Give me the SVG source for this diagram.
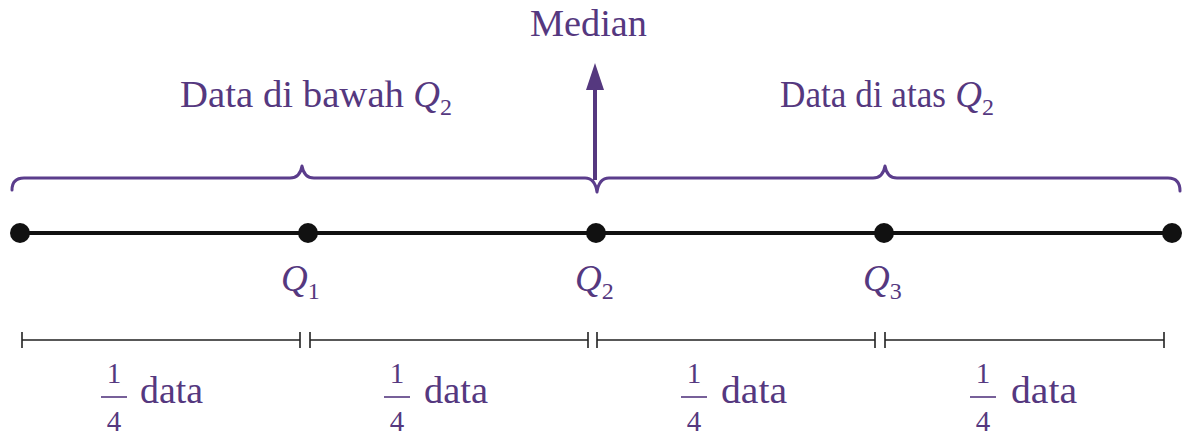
<svg xmlns="http://www.w3.org/2000/svg" width="1192" height="437" viewBox="0 0 1192 437">
<style>
.t{font-family:"Liberation Serif","Times New Roman",serif;fill:#55387f;}
.big{font-size:37px;}
.q{font-style:italic;}
.sub{font-size:24px;font-style:normal;}
.frac{font-size:29px;}
.brace{fill:none;stroke:#5b3d8c;stroke-width:3;stroke-linecap:round;stroke-linejoin:round;}
.axis{stroke:#111;stroke-width:4;}
.dot{fill:#111;}
.meas{stroke:#222;stroke-width:1.6;fill:none;}
.bar{stroke:#55387f;stroke-width:1.6;}
</style>
<g id="connectors">
<path class="brace" d="M12,190 Q12,178 24,178 L290,178 Q300,178 302,166 Q304,178 314,178 L585,178 Q595,178 597,192 Q599,178 609,178 L873,178 Q883,178 885,166 Q887,178 897,178 L1168,178 Q1180,178 1180,191"/>
<line x1="595" y1="180" x2="595" y2="86" stroke="#55387f" stroke-width="4"/>
<polygon points="595,63 586,90 604,90" fill="#55387f"/>
<line class="axis" x1="20" y1="233" x2="1172" y2="233"/>
<g id="measure">
<path class="meas" d="M22,340 H300 M22,332 V348 M300,332 V348 M310,340 H588 M310,332 V348 M588,332 V348 M597,340 H875 M597,332 V348 M875,332 V348 M885,340 H1164 M885,332 V348 M1164,332 V348"/>
</g>
</g>
<g id="node-p0"><circle class="dot" cx="20" cy="233" r="10"/></g>
<g id="node-q1"><circle class="dot" cx="308" cy="233" r="10"/>
<text class="t big q" x="281" y="291">Q<tspan class="sub" dy="8">1</tspan></text></g>
<g id="node-q2"><circle class="dot" cx="596" cy="233" r="10"/>
<text class="t big q" x="575" y="291">Q<tspan class="sub" dy="8">2</tspan></text></g>
<g id="node-q3"><circle class="dot" cx="884" cy="233" r="10"/>
<text class="t big q" x="863" y="291">Q<tspan class="sub" dy="8">3</tspan></text></g>
<g id="node-p4"><circle class="dot" cx="1172" cy="233" r="10"/></g>
<g id="label-median"><text class="t" font-size="38" x="530" y="36" textLength="117" lengthAdjust="spacingAndGlyphs">Median</text></g>
<g id="label-below"><text class="t big" x="180" y="107"><tspan textLength="224" lengthAdjust="spacingAndGlyphs">Data di bawah</tspan> <tspan class="q">Q</tspan><tspan class="sub" dy="8">2</tspan></text></g>
<g id="label-above"><text class="t big" x="780" y="107"><tspan textLength="166" lengthAdjust="spacingAndGlyphs">Data di atas</tspan> <tspan class="q">Q</tspan><tspan class="sub" dy="8">2</tspan></text></g>
<g id="frac1">
<text class="t frac" x="114" y="383" text-anchor="middle">1</text>
<line class="bar" x1="101" y1="397" x2="127" y2="397"/>
<text class="t frac" x="114" y="431" text-anchor="middle">4</text>
<text class="t big" x="140" y="403" textLength="63" lengthAdjust="spacingAndGlyphs">data</text>
</g>
<g id="frac2">
<text class="t frac" x="397" y="383" text-anchor="middle">1</text>
<line class="bar" x1="384" y1="397" x2="410" y2="397"/>
<text class="t frac" x="397" y="431" text-anchor="middle">4</text>
<text class="t big" x="424" y="403" textLength="64" lengthAdjust="spacingAndGlyphs">data</text>
</g>
<g id="frac3">
<text class="t frac" x="694" y="383" text-anchor="middle">1</text>
<line class="bar" x1="681" y1="397" x2="707" y2="397"/>
<text class="t frac" x="694" y="431" text-anchor="middle">4</text>
<text class="t big" x="721" y="403" textLength="66" lengthAdjust="spacingAndGlyphs">data</text>
</g>
<g id="frac4">
<text class="t frac" x="983" y="383" text-anchor="middle">1</text>
<line class="bar" x1="970" y1="397" x2="996" y2="397"/>
<text class="t frac" x="983" y="431" text-anchor="middle">4</text>
<text class="t big" x="1011" y="403" textLength="66" lengthAdjust="spacingAndGlyphs">data</text>
</g>
</svg>
